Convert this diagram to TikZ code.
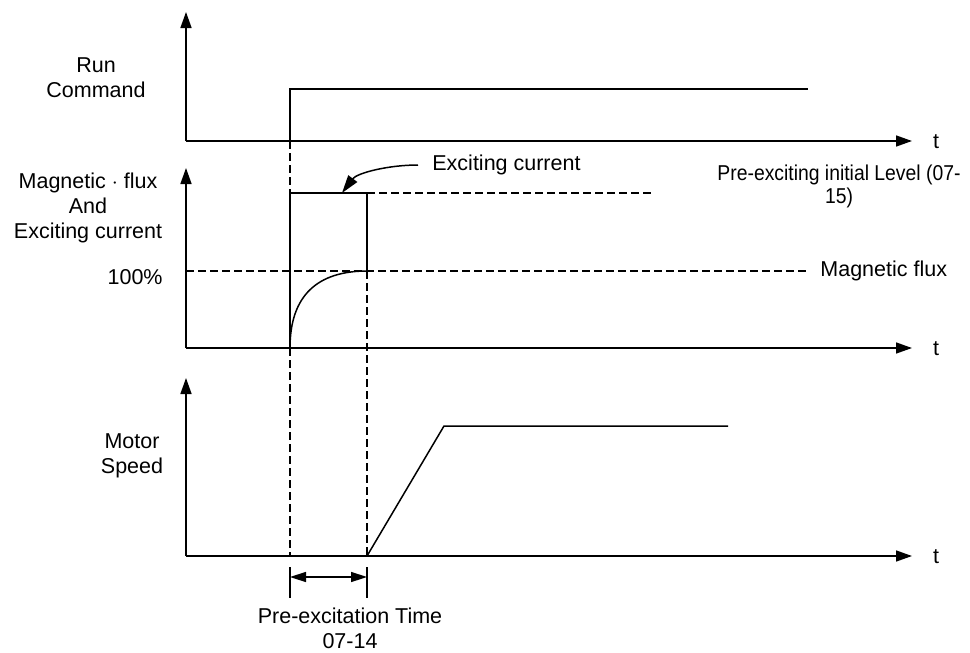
\documentclass[tikz,border=0pt]{standalone}
\usepackage{fontspec}
\setmainfont{Liberation Sans}
\newfontfamily\lvlfont{Liberation Sans}[FakeStretch=0.9]
\usetikzlibrary{arrows.meta}

\tikzset{
  axis/.style={line width=0.75pt, -{Triangle[length=8pt,width=5.5pt]}},
  sig/.style={line width=0.75pt},
  guide/.style={line width=0.6pt, dash pattern=on 3.75pt off 2.25pt},
  lbl/.style={font=\fontsize{10.75}{12.5}\selectfont, inner sep=0pt, align=center},
}

\begin{document}
\begin{tikzpicture}[x=0.5pt, y=-0.5pt, line join=miter]
    \useasboundingbox (0,0) rectangle (970,653);

    % Coordinates
    \coordinate (O1) at (186,141);
    \coordinate (Y1) at (186,12);
    \coordinate (X1) at (912,141);
    \coordinate (O2) at (186,348);
    \coordinate (Y2) at (186,168);
    \coordinate (X2) at (912,348);
    \coordinate (O3) at (186,556);
    \coordinate (Y3) at (186,378);
    \coordinate (X3) at (912,556);

    \coordinate (Son) at (290,141);   % run command switches on
    \coordinate (Shi) at (290,89);
    \coordinate (Send) at (808,89);

    \coordinate (Ra) at (290,348);    % exciting current pulse
    \coordinate (Rb) at (290,193);
    \coordinate (Rc) at (367,193);
    \coordinate (Rd) at (367,271);
    \coordinate (Rtip) at (342,193);
    \coordinate (Rdash) at (652,193);

    \coordinate (Fa) at (186,271);    % 100% level
    \coordinate (Fb) at (807,271);

    \coordinate (Ma) at (367,556);    % motor speed
    \coordinate (Mb) at (444,426);
    \coordinate (Mc) at (728,426);

    \coordinate (Ta) at (290,556);
    \coordinate (Tb) at (367,556);
    \coordinate (Ka1) at (290,567);
    \coordinate (Ka2) at (290,598);
    \coordinate (Kb1) at (367,567);
    \coordinate (Kb2) at (367,598);
    \coordinate (Da) at (290,577);
    \coordinate (Db) at (367,577);

    % Axes
    \draw[axis] (O1) -- (Y1);
    \draw[axis] (O1) -- (X1);
    \draw[axis] (O2) -- (Y2);
    \draw[axis] (O2) -- (X2);
    \draw[axis] (O3) -- (Y3);
    \draw[axis] (O3) -- (X3);

    % Run command
    \draw[sig] (Son) -- (Shi) -- (Send);

    % Exciting current and magnetic flux
    \draw[sig] (Ra) -- (Rb) -- (Rc) -- (Rd);
    \draw[guide] (Rc) -- (Rdash);
    \draw[guide] (Fa) -- (Fb);
    \draw[sig] (Ra) .. controls (290,295) and (318,271) .. (Rd);

    % Motor speed
    \draw[sig] (Ma) -- (Mb) -- (Mc);

    % Timing guides
    \draw[guide] (Son) -- (Rb);
    \draw[guide] (Ra) -- (Ta);
    \draw[guide] (Rd) -- (Tb);
    \draw[sig] (Ka1) -- (Ka2);
    \draw[sig] (Kb1) -- (Kb2);
    \draw[sig, {Triangle[length=8pt,width=5pt]}-{Triangle[length=8pt,width=5pt]}] (Da) -- (Db);

    % Labels
    \node[lbl] (run) at (96,78) {Run\\Command};
    \node[lbl] (flux) at (88,208) {Magnetic $\cdot$ flux\\And\\Exciting current};
    \node[lbl, anchor=east] (pct) at (163,277) {100\%};
    \node[lbl] (motor) at (132,456) {Motor\\Speed};
    \node[lbl] (t1) at (936,142) {t};
    \node[lbl] (t2) at (936,349) {t};
    \node[lbl] (t3) at (936,557) {t};
    \node[lbl, anchor=west] (exc) at (432,165) {Exciting current};
    \node[lbl, font=\fontsize{10.75}{11.5}\lvlfont] (lvl) at (839,186) {Pre-exciting initial Level (07-\\15)};
    \node[lbl, anchor=west] (mflux) at (820,271) {Magnetic flux};
    \node[lbl] (ptime) at (350,628) {Pre-excitation Time\\07-14};

    \draw[sig, -{Triangle[length=9pt,width=5.5pt]}] ([xshift=-7pt]exc.west) .. controls +(-30,0) and +(15,-20) .. (Rtip);
\end{tikzpicture}
\end{document}
